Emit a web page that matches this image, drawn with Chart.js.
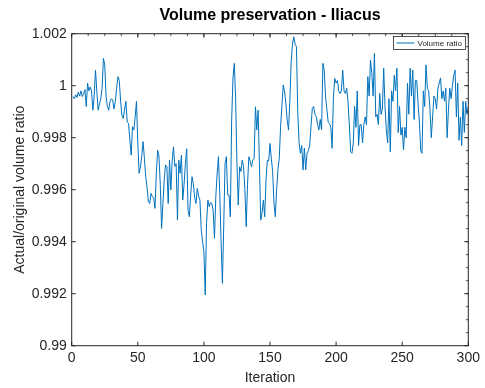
<!DOCTYPE html>
<html>
<head>
<meta charset="utf-8">
<script src="https://cdn.jsdelivr.net/npm/chart.js@4.4.1/dist/chart.umd.min.js"></script>
<style>
  html, body { margin: 0; padding: 0; background: #fff; }
  #wrap { width: 485px; height: 388px; }
</style>
</head>
<body>
<div id="wrap"><canvas id="myChart" width="485" height="388"></canvas></div>
<script>
// volume ratio per iteration (1..300)
const volumeRatio = [
  0.99958, 0.99950, 0.99965, 0.99955, 0.99975, 0.99960, 0.99980, 0.99958, 0.99970, 0.99985,
  0.99920, 1.00010, 0.99980, 0.99995, 0.99980, 0.99906, 0.99960, 1.00060, 0.99980, 0.99906,
  0.99930, 0.99950, 0.99990, 1.00105, 1.00080, 0.99960, 0.99920, 0.99906, 0.99940, 0.99950,
  0.99945, 0.99910, 0.99940, 0.99990, 1.00035, 1.00020, 0.99940, 0.99885, 0.99874, 0.99910,
  0.99940, 0.99860, 0.99855, 0.99790, 0.99733, 0.99842, 0.99830, 0.99880, 0.99940, 0.99780,
  0.99663, 0.99688, 0.99730, 0.99785, 0.99720, 0.99650, 0.99610, 0.99554, 0.99547, 0.99586,
  0.99573, 0.99570, 0.99528, 0.99660, 0.99752, 0.99730, 0.99620, 0.99451, 0.99547, 0.99640,
  0.99695, 0.99690, 0.99547, 0.99714, 0.99599, 0.99710, 0.99765, 0.99690, 0.99700, 0.99483,
  0.99714, 0.99663, 0.99733, 0.99560, 0.99620, 0.99700, 0.99757, 0.99520, 0.99496, 0.99580,
  0.99650, 0.99624, 0.99570, 0.99547, 0.99605, 0.99575, 0.99560, 0.99445, 0.99400, 0.99362,
  0.99195, 0.99470, 0.99560, 0.99535, 0.99550, 0.99547, 0.99520, 0.99413, 0.99573, 0.99660,
  0.99727, 0.99586, 0.99400, 0.99240, 0.99460, 0.99700, 0.99727, 0.99580, 0.99580, 0.99496,
  0.99868, 1.00030, 1.00086, 0.99950, 0.99700, 0.99541, 0.99688, 0.99670, 0.99714, 0.99690,
  0.99600, 0.99458, 0.99620, 0.99727, 0.99710, 0.99688, 0.99714, 0.99720, 0.99919, 0.99830,
  0.99906, 0.99700, 0.99483, 0.99510, 0.99560, 0.99496, 0.99640, 0.99714, 0.99710, 0.99778,
  0.99720, 0.99670, 0.99550, 0.99496, 0.99600, 0.99676, 0.99720, 0.99842, 0.99920, 1.00003,
  0.99980, 0.99930, 0.99870, 0.99829, 0.99940, 1.00090, 1.00160, 1.00188, 1.00160, 1.00150,
  0.99900, 0.99780, 0.99740, 0.99770, 0.99676, 0.99760, 0.99676, 0.99740, 0.99750, 0.99770,
  0.99842, 0.99913, 0.99920, 0.99890, 0.99881, 0.99850, 0.99830, 0.99870, 0.99830, 1.00086,
  1.00060, 0.99960, 0.99910, 0.99860, 0.99855, 0.99840, 0.99759, 0.99960, 1.00028, 1.00010,
  1.00020, 0.99980, 0.99970, 0.99980, 1.00060, 0.99980, 0.99970, 0.99990, 0.99940, 0.99850,
  0.99746, 0.99740, 0.99780, 0.99920, 0.99840, 0.99980, 0.99770, 0.99850, 0.99850, 0.99780,
  0.99850, 0.99880, 0.99850, 1.00035, 0.99960, 1.00099, 1.00050, 0.99960, 1.00124, 0.99880,
  0.99890, 0.99850, 0.99970, 0.99890, 0.99910, 1.00067, 0.99920, 0.99830, 0.99780, 0.99950,
  0.99746, 0.99980, 0.99940, 1.00040, 0.99980, 1.00067, 0.99820, 0.99920, 0.99810, 0.99840,
  0.99753, 0.99840, 0.99800, 1.00010, 0.99890, 1.00067, 0.99960, 1.00060, 0.99870, 1.00020,
  1.00020, 0.99930, 0.99860, 0.99750, 0.99740, 0.99980, 0.99920, 1.00080, 0.99990, 0.99980,
  0.99910, 0.99800, 0.99880, 0.99960, 0.99950, 0.99910, 0.99990, 1.00010, 1.00030, 0.99950,
  0.99980, 0.99940, 0.99990, 0.99800, 0.99910, 0.99990, 0.99950, 1.00000, 1.00040, 1.00060,
  0.99880, 1.00010, 0.99790, 0.99880, 0.99770, 0.99940, 0.99820, 0.99940, 0.99890, 0.99920
];
const iterations = volumeRatio.map((v, i) => i + 1);

const xTicks = [0, 50, 100, 150, 200, 250, 300];
const yTicks = [0.99, 0.992, 0.994, 0.996, 0.998, 1, 1.002];

const axisColor = '#262626';
const lineColor = '#0072BD';
const fontFamily = 'Arial, "Liberation Sans", Helvetica, sans-serif';

// box round the axes, inward ticks, and the small legend in the corner
const frame = {
  id: 'frame',
  afterDraw(chart) {
    const { ctx, chartArea: a, scales: { x, y } } = chart;
    ctx.save();
    ctx.strokeStyle = axisColor;
    ctx.lineWidth = 1;
    ctx.strokeRect(a.left, a.top, a.right - a.left, a.bottom - a.top);
    ctx.beginPath();
    xTicks.forEach(t => {
      const px = x.getPixelForValue(t);
      ctx.moveTo(px, a.bottom); ctx.lineTo(px, a.bottom - 4);
      ctx.moveTo(px, a.top); ctx.lineTo(px, a.top + 4);
    });
    yTicks.forEach(t => {
      const py = y.getPixelForValue(t);
      ctx.moveTo(a.left, py); ctx.lineTo(a.left + 4, py);
      ctx.moveTo(a.right, py); ctx.lineTo(a.right - 4, py);
    });
    ctx.stroke();
    // minor ticks on top and right
    ctx.beginPath();
    ctx.lineWidth = 0.8;
    for (let t = 12.5; t < 300; t += 12.5) {
      const px = x.getPixelForValue(t);
      ctx.moveTo(px, a.top); ctx.lineTo(px, a.top + 2.5);
    }
    for (let t = 0.9905; t < 1.002; t += 0.0005) {
      const py = y.getPixelForValue(t);
      ctx.moveTo(a.right, py); ctx.lineTo(a.right - 2.5, py);
    }
    ctx.stroke();

    // legend
    const lx = 393.5, ly = 36.5, lw = 72, lh = 13;
    ctx.fillStyle = '#fff';
    ctx.fillRect(lx, ly, lw, lh);
    ctx.lineWidth = 0.8;
    ctx.strokeStyle = axisColor;
    ctx.strokeRect(lx, ly, lw, lh);
    ctx.beginPath();
    ctx.strokeStyle = lineColor;
    ctx.lineWidth = 1;
    ctx.moveTo(lx + 3, ly + lh / 2);
    ctx.lineTo(lx + 21, ly + lh / 2);
    ctx.stroke();
    ctx.fillStyle = axisColor;
    ctx.font = '8px ' + fontFamily;
    ctx.textBaseline = 'middle';
    ctx.fillText(chart.data.datasets[0].label, lx + 24, ly + lh / 2 + 0.5);
    ctx.restore();
  }
};

const ctx = document.getElementById('myChart').getContext('2d');
const myChart = new Chart(ctx, {
  type: 'line',
  data: {
    labels: iterations,
    datasets: [{
      label: 'Volume ratio',
      data: iterations.map((it, i) => ({ x: it, y: volumeRatio[i] })),
      borderColor: lineColor,
      borderWidth: 1,
      pointRadius: 0,
      tension: 0,
      fill: false
    }]
  },
  options: {
    responsive: false,
    animation: false,
    layout: { padding: { left: 0, right: 16.7, top: 0, bottom: 0 } },
    plugins: {
      legend: { display: false },
      tooltip: { enabled: false },
      title: {
        display: true,
        text: 'Volume preservation - Iliacus',
        color: '#000',
        fullSize: false,
        font: { family: fontFamily, size: 16, weight: 'bold' },
        padding: { top: 6, bottom: 8.5 }
      }
    },
    scales: {
      x: {
        type: 'linear',
        min: 0,
        max: 300,
        grid: { display: false, drawTicks: false, tickLength: 0 },
        border: { display: false },
        afterBuildTicks: s => { s.ticks = xTicks.map(v => ({ value: v })); },
        afterFit: s => { s.height = 42.3; },
        ticks: {
          color: axisColor,
          padding: 4,
          maxRotation: 0,
          font: { family: fontFamily, size: 14 }
        },
        title: {
          display: true,
          text: 'Iteration',
          color: axisColor,
          font: { family: fontFamily, size: 14 },
          padding: { top: 0, bottom: 1.5 }
        }
      },
      y: {
        min: 0.99,
        max: 1.002,
        grid: { display: false, drawTicks: false, tickLength: 0 },
        border: { display: false },
        afterBuildTicks: s => { s.ticks = yTicks.map(v => ({ value: v })); },
        afterFit: s => { s.width = 71.7; },
        ticks: {
          color: axisColor,
          padding: 5,
          font: { family: fontFamily, size: 14 },
          callback: value => String(+value.toFixed(3))
        },
        title: {
          display: true,
          text: 'Actual/original volume ratio',
          color: axisColor,
          font: { family: fontFamily, size: 14 },
          padding: { top: 11.6, bottom: 0 }
        }
      }
    }
  },
  plugins: [frame]
});
</script>
</body>
</html>
